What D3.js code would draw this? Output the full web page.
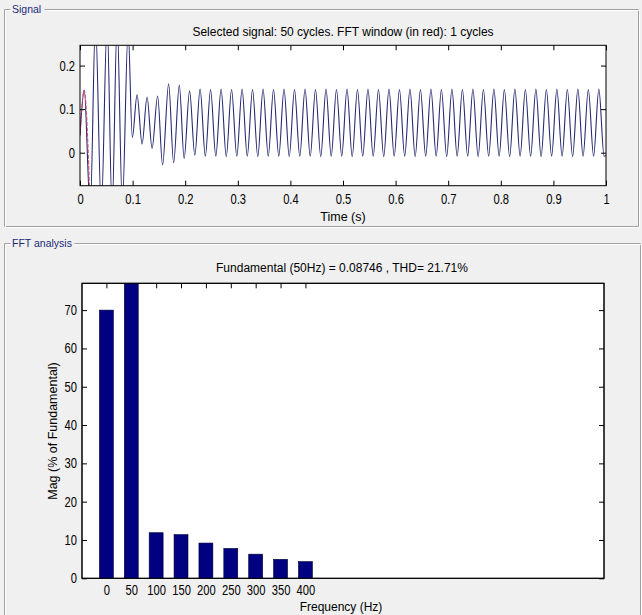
<!DOCTYPE html>
<html><head><meta charset="utf-8">
<script src="https://cdn.jsdelivr.net/npm/d3@7"></script>
<style>
body{margin:0;background:#f0f0f0;}
svg{display:block;}
text{font-family:"Liberation Sans",Arial,sans-serif;fill:#000;}
.tick text{font-family:"Liberation Sans",Arial,sans-serif;font-size:14px;}
.grp{font-family:"Liberation Sans",Arial,sans-serif;font-size:10.5px;fill:#1c2a78;}
</style>
</head><body>
<svg id="c" width="642" height="615"></svg>
<script>
// ---------- DATA ----------
const signalTitle = "Selected signal: 50 cycles. FFT window (in red): 1 cycles";
const signalXLabel = "Time (s)";
const timeTicks = [0,0.1,0.2,0.3,0.4,0.5,0.6,0.7,0.8,0.9,1];
const timeTickLabels = ["0","0.1","0.2","0.3","0.4","0.5","0.6","0.7","0.8","0.9","1"];
const signalYTicks = [0,0.1,0.2];
const signalYTickLabels = ["0","0.1","0.2"];
// extrema of the recorded signal (time s, value)
const signalTime = [0,0.008,0.0195,0.0294,0.0405,0.0516,0.061,0.0706,0.0805,0.0915,0.0995,0.1085,0.118,0.1275,0.137,0.1476,0.157,0.1685,0.178,0.1888,0.198,0.2083,
0.2183,0.2283,0.2383,0.2482,0.2582,0.2682,0.2781,0.2881,0.2981,0.3081,0.3180,0.3280,0.3380,0.3480,0.3579,0.3679,0.3779,0.3879,0.3978,0.4078,
0.4178,0.4278,0.4377,0.4477,0.4577,0.4677,0.4776,0.4876,0.4976,0.5076,0.5175,0.5275,0.5375,0.5475,0.5574,0.5674,0.5774,0.5874,0.5973,0.6073,
0.6173,0.6273,0.6372,0.6472,0.6572,0.6672,0.6771,0.6871,0.6971,0.7071,0.7170,0.7270,0.7370,0.7470,0.7569,0.7669,0.7769,0.7869,0.7968,0.8068,
0.8168,0.8268,0.8367,0.8467,0.8567,0.8667,0.8766,0.8866,0.8966,0.9066,0.9165,0.9265,0.9365,0.9465,0.9564,0.9664,0.9764,0.9864,0.9964,1.0];
const signalValue = [0.04,0.143,-0.13,0.30,-0.13,0.30,-0.13,0.30,-0.12,0.28,0.035,0.133,0.02,0.128,0.01,0.13,-0.028,0.158,-0.023,0.155,-0.013,0.142,
-0.006,0.146,-0.008,0.145,-0.008,0.146,-0.009,0.145,-0.008,0.146,-0.008,0.145,-0.009,0.146,-0.008,0.145,-0.008,0.146,-0.009,0.145,
-0.008,0.146,-0.008,0.145,-0.009,0.146,-0.008,0.145,-0.008,0.146,-0.009,0.145,-0.008,0.146,-0.008,0.145,-0.009,0.146,-0.008,0.145,
-0.008,0.146,-0.009,0.145,-0.008,0.146,-0.008,0.145,-0.009,0.146,-0.008,0.145,-0.008,0.146,-0.009,0.145,-0.008,0.146,-0.008,0.145,
-0.009,0.146,-0.008,0.145,-0.008,0.146,-0.009,0.145,-0.008,0.146,-0.008,0.145,-0.009,0.146,-0.008,0.145,-0.008,0.146,-0.008,-0.006];
// FFT window (first cycle, drawn in red)
const windowTime = [0,0.008,0.0195];
const windowValue = [0.04,0.143,-0.13];

const fftTitle = "Fundamental (50Hz) = 0.08746 , THD= 21.71%";
const fftXLabel = "Frequency (Hz)";
const fftYLabel = "Mag (% of Fundamental)";
const harmonicFreq = [0,50,100,150,200,250,300,350,400];
const harmonicMag  = [70.0,100,11.9,11.4,9.2,7.8,6.3,4.95,4.35];
const freqTickLabels = ["0","50","100","150","200","250","300","350","400"];
const magTicks = [0,10,20,30,40,50,60,70];
const magTickLabels = ["0","10","20","30","40","50","60","70"];

// ---------- DRAW ----------
const svg = d3.select("#c");
const SQ = 0.8; // horizontal squeeze of tick labels (narrow glyphs)

function groupBox(x0,y0,x1,y1,label,labelW){
  const g = svg.append("g");
  const path = `M${x0+6+labelW},${y0}H${x1}V${y1}H${x0}V${y0}H${x0+6}`;
  g.append("path").attr("d",path).attr("fill","none").attr("stroke","#a0a0a0").attr("stroke-width",1)
   .attr("transform","translate(0.5,0.5)");
  g.append("path").attr("d",path).attr("fill","none").attr("stroke","#ffffff").attr("stroke-width",1)
   .attr("transform","translate(1.5,1.5)");
  g.append("text").attr("class","grp").attr("x",x0+8).attr("y",y0+4).text(label);
}
groupBox(4,9,638,226,"Signal",34);
groupBox(4,243,640,640,"FFT analysis",64);

// ---- top: signal ----
const x1 = d3.scaleLinear().domain([0,1]).range([80,606]);
const y1 = d3.scaleLinear().domain([-0.0757,0.2465]).range([185.7,45.3]);
svg.append("defs").append("clipPath").attr("id","clip1").append("rect")
  .attr("x",x1.range()[0]).attr("y",y1.range()[1]).attr("width",x1.range()[1]-x1.range()[0]).attr("height",y1.range()[0]-y1.range()[1]);
svg.append("rect").attr("x",x1.range()[0]).attr("y",y1.range()[1]).attr("width",x1.range()[1]-x1.range()[0]).attr("height",y1.range()[0]-y1.range()[1]).attr("fill","#fff");

const line1 = d3.line().x(d=>x1(d[0])).y(d=>y1(d[1])).curve(d3.curveMonotoneX);
const sigPts = signalTime.map((t,i)=>[t,signalValue[i]]);
const winPts = windowTime.map((t,i)=>[t,windowValue[i]]);
svg.append("path").datum(sigPts).attr("clip-path","url(#clip1)").attr("d",line1)
  .attr("fill","none").attr("stroke","#272a72").attr("stroke-width",1.1);
svg.append("path").datum(winPts).attr("clip-path","url(#clip1)").attr("d",line1)
  .attr("fill","none").attr("stroke","#d0405a").attr("stroke-width",1.1).attr("stroke-dasharray","4,1.5").attr("opacity",0.85);

function axes(x,y,xt,xl,yt,yl,xpad){
  const xb = y.range()[0], xtp = y.range()[1], yl0 = x.range()[0], yr = x.range()[1];
  const ax = svg.append("g").attr("transform",`translate(0,${xb})`)
    .call(d3.axisBottom(x).tickValues(xt).tickSize(-5).tickPadding(xpad).tickFormat((d,i)=>xl[i]));
  const axt = svg.append("g").attr("transform",`translate(0,${xtp})`)
    .call(d3.axisTop(x).tickValues(xt).tickSize(-5).tickFormat(""));
  const ayl = svg.append("g").attr("transform",`translate(${yl0},0)`)
    .call(d3.axisLeft(y).tickValues(yt).tickSize(-5).tickPadding(5).tickFormat((d,i)=>yl[i]));
  const ayr = svg.append("g").attr("transform",`translate(${yr},0)`)
    .call(d3.axisRight(y).tickValues(yt).tickSize(-5).tickFormat(""));
  [ax,axt,ayl,ayr].forEach(g=>{g.attr("font-family",null).attr("font-size",null);g.select(".domain").remove();});
  ax.selectAll(".tick text").attr("transform",`scale(${SQ},1)`);
  ayl.selectAll(".tick text").attr("x",-5/SQ).attr("transform",`scale(${SQ},1)`);
  svg.append("rect").attr("x",yl0).attr("y",xtp).attr("width",yr-yl0).attr("height",xb-xtp)
    .attr("fill","none").attr("stroke","#000").attr("stroke-width",1);
}
axes(x1,y1,timeTicks,timeTickLabels,signalYTicks,signalYTickLabels,8);

svg.append("text").attr("x",343).attr("y",36).attr("text-anchor","middle").attr("font-size",12).text(signalTitle);
svg.append("text").attr("x",343).attr("y",221).attr("text-anchor","middle").attr("font-size",12.5).text(signalXLabel);

// ---- bottom: FFT ----
const x2 = d3.scaleLinear().domain([-49,1000]).range([82,604]);
const y2 = d3.scaleLinear().domain([0,77]).range([578.3,283.3]);
svg.append("defs").append("clipPath").attr("id","clip2").append("rect")
  .attr("x",x2.range()[0]).attr("y",y2.range()[1]).attr("width",x2.range()[1]-x2.range()[0]).attr("height",y2.range()[0]-y2.range()[1]);
svg.append("rect").attr("x",x2.range()[0]).attr("y",y2.range()[1]).attr("width",x2.range()[1]-x2.range()[0]).attr("height",y2.range()[0]-y2.range()[1]).attr("fill","#fff");

axes(x2,y2,harmonicFreq,freqTickLabels,magTicks,magTickLabels,7);

const barW = x2(28)-x2(0);
svg.append("g").attr("clip-path","url(#clip2)").selectAll("rect").data(harmonicFreq).join("rect")
  .attr("x",d=>x2(d)-barW/2).attr("width",barW)
  .attr("y",(d,i)=>y2(harmonicMag[i])).attr("height",(d,i)=>y2(0)-y2(harmonicMag[i]))
  .attr("fill","#000080").attr("stroke","#000033").attr("stroke-width",0.6);
svg.append("rect").attr("x",x2.range()[0]).attr("y",y2.range()[1]).attr("width",x2.range()[1]-x2.range()[0]).attr("height",y2.range()[0]-y2.range()[1])
  .attr("fill","none").attr("stroke","#000");

svg.append("text").attr("x",342).attr("y",272).attr("text-anchor","middle").attr("font-size",12).text(fftTitle);
svg.append("text").attr("x",341).attr("y",611).attr("text-anchor","middle").attr("font-size",12).text(fftXLabel);
svg.append("text").attr("transform","translate(57,431) rotate(-90)").attr("text-anchor","middle").attr("font-size",12.5).text(fftYLabel);
</script>
</body></html>
